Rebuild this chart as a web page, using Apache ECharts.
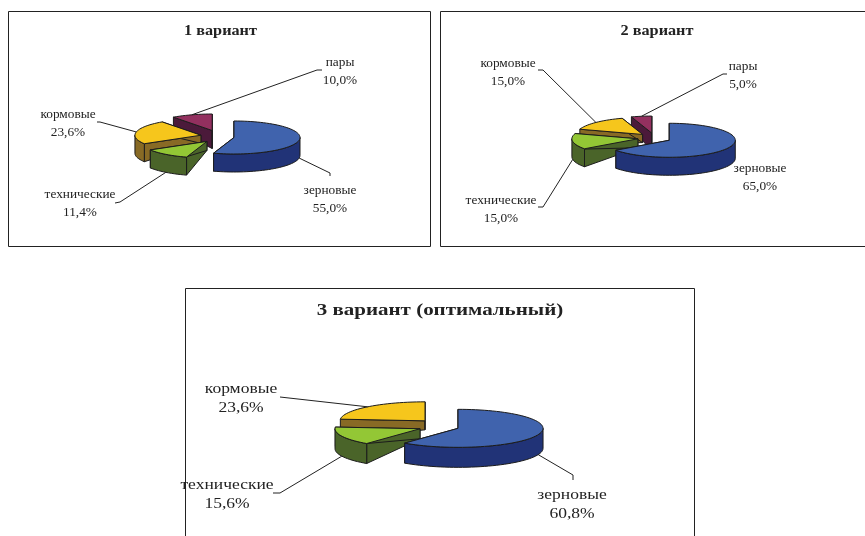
<!DOCTYPE html>
<html lang="ru">
<head>
<meta charset="utf-8">
<title>Варианты структуры посевных площадей</title>
<style>html,body{margin:0;padding:0;background:#fff;overflow:hidden}#chart{width:865px;height:536px}</style>
<script src="https://cdn.jsdelivr.net/npm/echarts@6/dist/echarts.min.js"></script>
</head>
<body>
<div id="chart"></div>
<script>
// Доли культур по вариантам, %
const categories = ['зерновые', 'технические', 'кормовые', 'пары'];
const variant1 = [55.0, 11.4, 23.6, 10.0];
const variant2 = [65.0, 15.0, 15.0, 5.0];
const variant3 = [60.8, 15.6, 23.6];
const titles = ['1 вариант', '2 вариант', '3 вариант (оптимальный)'];

// Цвета секторов: верхняя грань и боковая
const topColors = ['#4063AD', '#93C735', '#F6C61C', '#93305F'];
const sideColors = ['#213377', '#4A6429', '#886A25', '#4B1A3A'];

// Доля высоты у вершины сектора: передние грани сужаются к центру круга
const apexDepthShare = [1, 0.5, 0.45, 1];
// Задний край круга из-за перспективы ниже переднего
const rearDepthShrink = 0.4;

// Геометрия панелей: рамка, центр круга, полуоси, высота, вынос секторов, выноски и подписи
const panels = [
  {
    values: variant1, title: titles[0],
    frame: [8.5, 11.5, 422, 235],
    titleAt: [220.5, 31], titleSize: 14, titleScale: 1.16,
    cx: 217.4, cy: 136.5, rx: 66, ry: 16.5, depth: 18, ex: 16.8, ey: 6.3,
    fontSize: 12, textScale: 1.11, lineGap: 18,
    leaders: [[[330, 173], [330, 176]], [[120, 202], [115, 203]], [[100, 122], [97, 122]], [[317, 70], [322, 70]]],
    labelAt: [[330, 191], [80, 195], [68, 115], [340, 63]]
  },
  {
    values: variant2, title: titles[1],
    frame: [440.5, 11.5, 440, 235],
    titleAt: [657, 31], titleSize: 14, titleScale: 1.16,
    cx: 654.4, cy: 138, rx: 66, ry: 17, depth: 18, ex: 16.7, ey: 5,
    fontSize: 12, textScale: 1.11, lineGap: 18,
    leaders: [null, [[543, 207], [538, 207]], [[543, 70], [538, 70]], [[723, 74], [727, 74]]],
    labelAt: [[760, 169], [501, 201], [508, 64], [743, 67]]
  },
  {
    values: variant3, title: titles[2],
    frame: [185.5, 288.5, 509, 290],
    titleAt: [440, 311], titleSize: 16, titleScale: 1.31,
    cx: 438.8, cy: 426, rx: 85, ry: 19, depth: 20, ex: 20.4, ey: 7,
    fontSize: 14, textScale: 1.25, lineGap: 19,
    leaders: [[[573, 475], [573, 480]], [[280, 493], [273, 493]], [[280, 397]], null],
    labelAt: [[572, 495], [227, 485], [241, 389], null]
  }
];

const FULL_TURN = 360;
const rad = d => d * Math.PI / 180;

// Угол сектора отсчитывается по часовой стрелке от 12 часов
function sliceGeometry(panel, index) {
  const total = panel.values.reduce((a, b) => a + b, 0);
  const before = panel.values.slice(0, index).reduce((a, b) => a + b, 0);
  const a0 = before / total * FULL_TURN;
  const a1 = (before + panel.values[index]) / total * FULL_TURN;
  const mid = (a0 + a1) / 2;
  const ax = panel.cx + panel.ex * Math.sin(rad(mid));
  const ay = panel.cy - panel.ey * Math.cos(rad(mid));
  const rim = a => [ax + panel.rx * Math.sin(rad(a)), ay - panel.ry * Math.cos(rad(a))];
  return { a0, a1, mid, ax, ay, rim };
}

function arcPoints(rim, from, to) {
  const pts = [];
  const steps = Math.max(2, Math.ceil((to - from) / 3));
  for (let i = 0; i <= steps; i++) pts.push(rim(from + (to - from) * i / steps));
  return pts;
}

function renderSlice(panel, api) {
  const index = api.value(1);
  const g = sliceGeometry(panel, index);
  const rimDepth = a => panel.depth * (1 - rearDepthShrink * Math.max(0, Math.cos(rad(a))));
  const edge = { stroke: '#1c1c1c', lineWidth: 1, lineJoin: 'round' };
  const top = topColors[index], side = sideColors[index];
  const apex = [g.ax, g.ay];
  const apexBottom = [g.ax, g.ay + panel.depth * apexDepthShare[index]];
  const children = [];
  // Радиальные грани, затем внешняя боковая поверхность, затем верхняя грань
  [g.a0, g.a1].forEach(a => {
    const p = g.rim(a);
    const pb = [p[0], p[1] + rimDepth(a)];
    children.push({ type: 'polygon', shape: { points: [apex, p, pb, apexBottom] }, style: { fill: side, ...edge } });
  });
  const from = Math.max(g.a0, 90), to = Math.min(g.a1, 270);
  if (to > from) {
    const arc = arcPoints(g.rim, from, to);
    const lower = arc.map(p => [p[0], p[1] + panel.depth]);
    children.push({ type: 'polygon', shape: { points: arc.concat(lower.reverse()) }, style: { fill: side, ...edge } });
  }
  children.push({ type: 'polygon', shape: { points: [apex].concat(arcPoints(g.rim, g.a0, g.a1)) }, style: { fill: top, ...edge } });
  return { type: 'group', children };
}

function renderLabel(panel, api) {
  const index = api.value(1);
  const g = sliceGeometry(panel, index);
  const children = [];
  const anchor = g.rim(g.mid);
  if (Math.cos(rad(g.mid)) < 0) anchor[1] += panel.depth;
  const path = panel.leaders[index];
  if (path) {
    children.push({
      type: 'polyline',
      shape: { points: [anchor].concat(path) },
      style: { stroke: '#222', lineWidth: 1, fill: null }
    });
  }
  const at = panel.labelAt[index];
  const percent = api.value(0).toFixed(1).replace('.', ',') + '%';
  [categories[index], percent].forEach((text, line) => {
    children.push({
      type: 'text', x: at[0], y: at[1] + line * panel.lineGap, scaleX: panel.textScale,
      style: { text, fontFamily: '"Liberation Serif"', fontSize: panel.fontSize, fill: '#222', align: 'center', verticalAlign: 'middle' }
    });
  });
  return { type: 'group', children };
}

const series = [];
panels.forEach(panel => {
  const rows = panel.values.map((v, i) => [v, i]);
  series.push({
    type: 'custom', coordinateSystem: 'none', silent: true, z: 2,
    data: rows.slice().reverse(),
    renderItem: (params, api) => renderSlice(panel, api)
  });
  series.push({
    type: 'custom', coordinateSystem: 'none', silent: true, z: 3,
    data: rows,
    renderItem: (params, api) => renderLabel(panel, api)
  });
});

const graphic = [];
panels.forEach(panel => {
  const [x, y, width, height] = panel.frame;
  graphic.push({
    type: 'rect', shape: { x, y, width, height }, silent: true, z: 1,
    style: { fill: '#fff', stroke: '#222', lineWidth: 1 }
  });
  graphic.push({
    type: 'text', x: panel.titleAt[0], y: panel.titleAt[1], scaleX: panel.titleScale, silent: true, z: 4,
    style: { text: panel.title, fontFamily: '"Liberation Serif"', fontWeight: 'bold', fontSize: panel.titleSize, fill: '#222', align: 'center', verticalAlign: 'middle' }
  });
});

const chart = echarts.init(document.getElementById('chart'), null, { renderer: 'canvas' });
chart.setOption({ animation: false, backgroundColor: '#fff', graphic, series });
</script>
</body>
</html>
